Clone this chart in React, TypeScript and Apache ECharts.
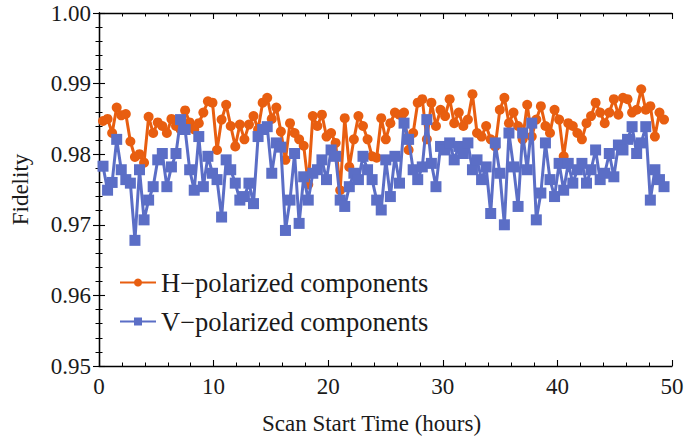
import React, { useEffect, useRef } from "react";
import * as echarts from "echarts";

const scanStart = 0.35;
const scanStep = 0.398;

const hValues = [
  0.9847, 0.985, 0.983, 0.9866, 0.9855, 0.9857, 0.9818, 0.9796, 0.98, 0.9788, 0.9853, 0.983, 0.9845, 0.984, 0.983, 0.985, 0.984, 0.9835, 0.9862, 0.9845, 0.9835,
  0.9844, 0.9859, 0.9875, 0.9873, 0.9806, 0.9849, 0.987, 0.984, 0.9811, 0.9842, 0.9821, 0.9842, 0.9854, 0.9835, 0.9873, 0.988, 0.985, 0.9866, 0.9832, 0.9792, 0.9844,
  0.983, 0.9821, 0.9812, 0.9757, 0.9854, 0.984, 0.9856, 0.9825, 0.983, 0.9816, 0.9749, 0.9851, 0.9782, 0.9821, 0.9854, 0.984, 0.9821, 0.9797, 0.9795, 0.9851, 0.9821,
  0.9844, 0.9859, 0.9856, 0.9859, 0.9806, 0.983, 0.9873, 0.9878, 0.9821, 0.9873, 0.984, 0.9863, 0.9854, 0.9878, 0.9844, 0.9859, 0.984, 0.9849, 0.9885, 0.983, 0.9825,
  0.984, 0.9821, 0.9811, 0.9863, 0.988, 0.9844, 0.9859, 0.984, 0.9821, 0.987, 0.9825, 0.9849, 0.9868, 0.984, 0.983, 0.9863, 0.9849, 0.9797, 0.9844, 0.984, 0.983,
  0.9821, 0.9844, 0.9854, 0.9873, 0.9859, 0.9844, 0.9859, 0.9878, 0.9856, 0.988, 0.9878, 0.9859, 0.9863, 0.9892, 0.9863, 0.9868, 0.9825, 0.9859, 0.9849,
];

const vValues = [
  0.9783, 0.9749, 0.976, 0.9821, 0.9778, 0.9764, 0.9759, 0.9678, 0.9778, 0.9707, 0.9735, 0.9754, 0.9792, 0.9801, 0.9754, 0.9782, 0.9801, 0.9849, 0.9835, 0.9778, 0.9749,
  0.9825, 0.9754, 0.9797, 0.9773, 0.9764, 0.9711, 0.9792, 0.9778, 0.9759, 0.9735, 0.974, 0.9759, 0.973, 0.9825, 0.9835, 0.9839, 0.9773, 0.9816, 0.981, 0.9692, 0.9735,
  0.9801, 0.9702, 0.9768, 0.9735, 0.9773, 0.9778, 0.9792, 0.9764, 0.9806, 0.9797, 0.9735, 0.9726, 0.9754, 0.9773, 0.9764, 0.9797, 0.9778, 0.9764, 0.9735, 0.9721, 0.9792,
  0.974, 0.9797, 0.9759, 0.9844, 0.9821, 0.9778, 0.9764, 0.9782, 0.9849, 0.9787, 0.9754, 0.9811, 0.9806, 0.9816, 0.9792, 0.9811, 0.9801, 0.9816, 0.9778, 0.9792, 0.9764,
  0.9782, 0.9716, 0.9816, 0.9773, 0.97, 0.983, 0.9782, 0.9726, 0.983, 0.9778, 0.9844, 0.9707, 0.9745, 0.9816, 0.9764, 0.974, 0.9787, 0.9749, 0.9787, 0.9759, 0.9778,
  0.9787, 0.9759, 0.9778, 0.9806, 0.9764, 0.9773, 0.9801, 0.9768, 0.9813, 0.9806, 0.9821, 0.9839, 0.9801, 0.9816, 0.9839, 0.9735, 0.9778, 0.9764, 0.9754,
];

const seriesNames = ["H\u2212polarized components", "V\u2212polarized components"];
const xTicks = [0, 10, 20, 30, 40, 50];
const yTicks = [0.95, 0.96, 0.97, 0.98, 0.99, 1.0];

const ORANGE = "#E85E10";
const BLUE = "#5B6EC6";
const FONT = "'Liberation Serif', 'DejaVu Serif', serif";
const TEXT = "#1a1a1a";

function toPairs(vals: number[]) {
  return vals.map((v, i) => [Math.round((scanStart + i * scanStep) * 1000) / 1000, v]);
}

export default function App() {
  const ref = useRef<HTMLDivElement>(null);
  useEffect(() => {
    if (!ref.current) return;
    const chart = echarts.init(ref.current, null, { renderer: "svg" });
    const tickCommon = {
      axisLine: { show: true, lineStyle: { color: "#000", width: 1.3 } },
      axisTick: { show: true, inside: true, length: 6, lineStyle: { color: "#000", width: 1.1 } },
      minorTick: { show: true, splitNumber: 5, length: 3.5, lineStyle: { color: "#000", width: 1 } },
      splitLine: { show: false },
    };
    chart.setOption({
      animation: false,
      backgroundColor: "#fff",
      textStyle: { fontFamily: FONT },
      grid: { left: 99, right: 15, top: 13, bottom: 72, containLabel: false, outerBoundsMode: "none" },
      legend: {
        orient: "vertical",
        left: 114,
        top: 264,
        itemWidth: 36,
        itemHeight: 10,
        itemGap: 12,
        textStyle: { fontFamily: FONT, fontSize: 26.5, color: TEXT },
        data: seriesNames,
      },
      xAxis: [
        {
          type: "value",
          min: 0,
          max: 50,
          interval: 10,
          position: "bottom",
          name: "Scan Start Time (hours)",
          nameLocation: "middle",
          nameGap: 46,
          nameTextStyle: { fontFamily: FONT, fontSize: 23, color: TEXT, padding: [0, 28, 0, 0] },
          axisLabel: {
            fontFamily: FONT,
            fontSize: 23,
            color: TEXT,
            margin: 9,
            formatter: (v: number) => (xTicks.includes(v) ? String(v) : ""),
          },
          ...tickCommon,
        },
        {
          type: "value",
          min: 0,
          max: 50,
          interval: 10,
          position: "top",
          axisLabel: { show: false },
          ...tickCommon,
        },
      ],
      yAxis: [
        {
          type: "value",
          min: 0.95,
          max: 1.0,
          interval: 0.01,
          position: "left",
          name: "Fidelity",
          nameLocation: "middle",
          nameGap: 67,
          nameRotate: 90,
          nameTextStyle: { fontFamily: FONT, fontSize: 23, color: TEXT },
          axisLabel: {
            fontFamily: FONT,
            fontSize: 23,
            color: TEXT,
            margin: 8,
            formatter: (v: number) => {
              const t = yTicks.find((y) => Math.abs(y - v) < 1e-6);
              return t !== undefined ? t.toFixed(2) : "";
            },
          },
          ...tickCommon,
        },
        {
          type: "value",
          min: 0.95,
          max: 1.0,
          interval: 0.01,
          position: "right",
          axisLabel: { show: false },
          ...tickCommon,
        },
      ],
      series: [
        {
          name: seriesNames[0],
          type: "line",
          data: toPairs(hValues),
          symbol: "circle",
          symbolSize: 10,
          itemStyle: { color: ORANGE },
          lineStyle: { color: ORANGE, width: 3 },
          z: 2,
        },
        {
          name: seriesNames[1],
          type: "line",
          data: toPairs(vValues),
          symbol: "rect",
          symbolSize: 11,
          itemStyle: { color: BLUE },
          lineStyle: { color: BLUE, width: 3 },
          z: 3,
        },
      ],
    });
    return () => chart.dispose();
  }, []);
  return <div ref={ref} style={{ width: 687, height: 438, position: "absolute", left: 0, top: 0 }} />;
}
